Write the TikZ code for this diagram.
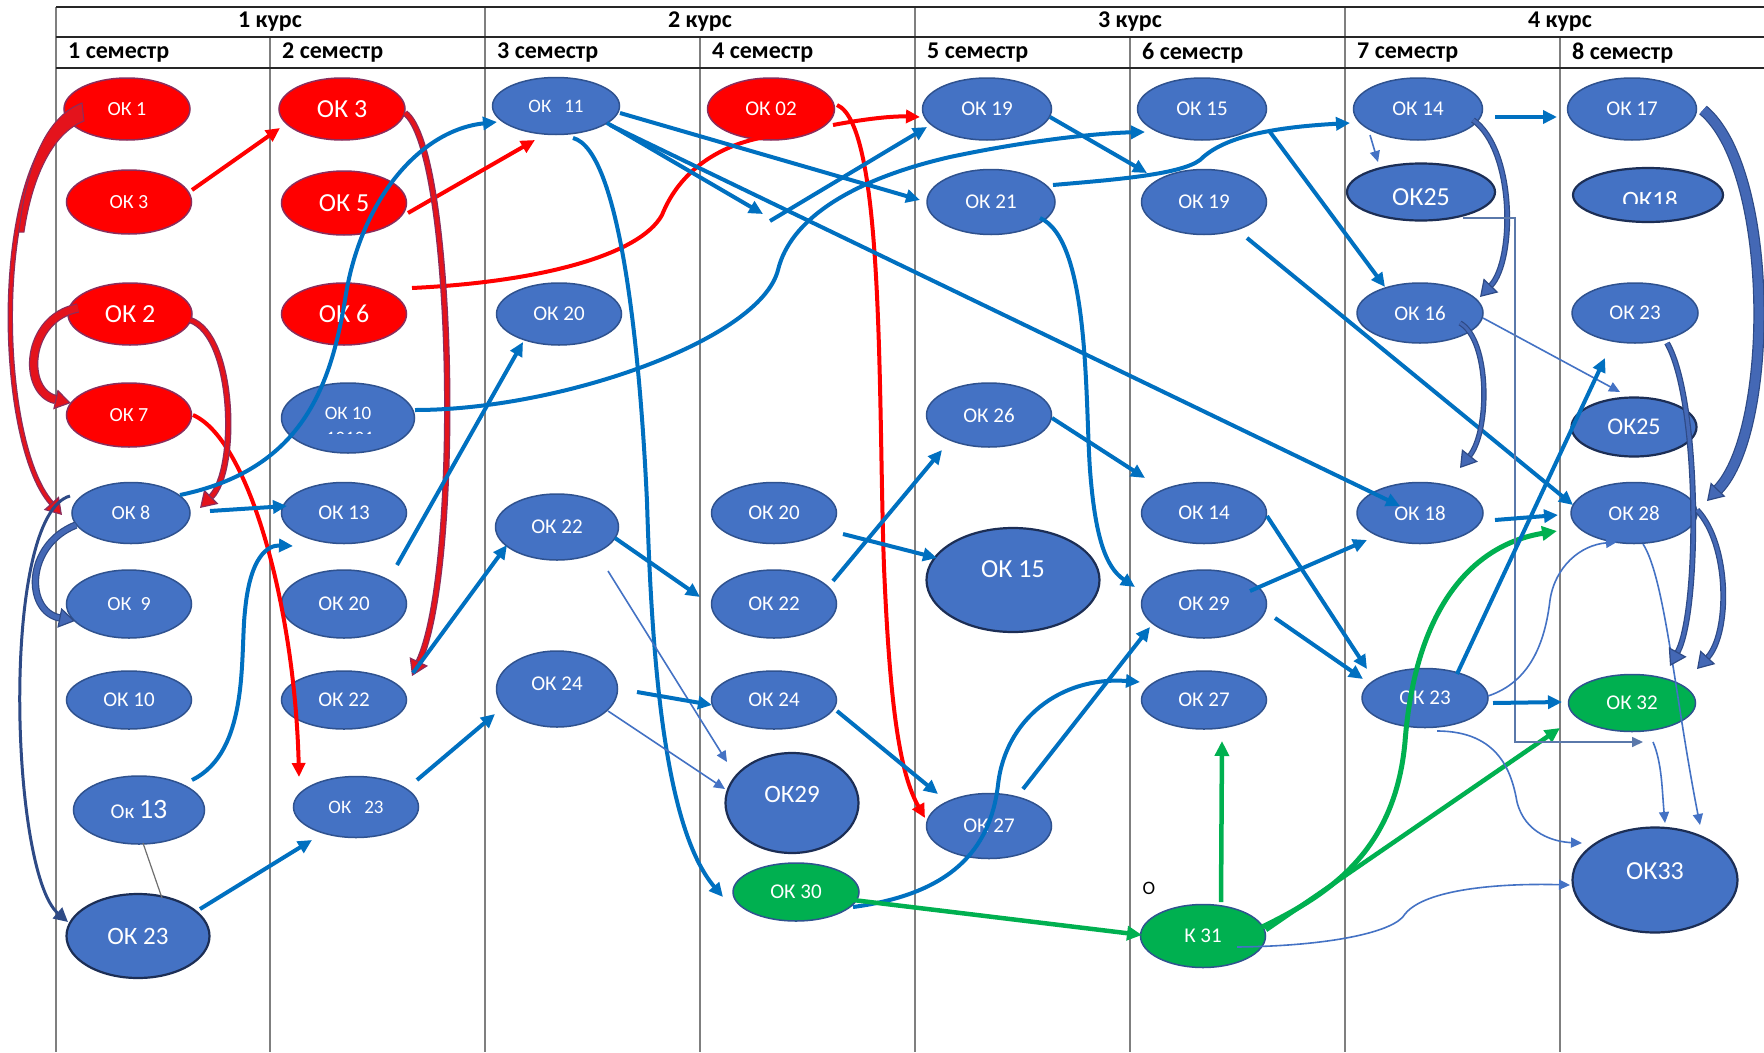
\documentclass[tikz,border=0pt]{standalone}
\usepackage{fontspec}
\setmainfont{Carlito}
\usetikzlibrary{arrows.meta,calc,shapes.geometric}
\definecolor{nblue}{HTML}{4472C4}
\definecolor{nedge}{HTML}{2F528F}
\definecolor{dedge}{HTML}{1C2E55}
\definecolor{nred}{HTML}{FF0000}
\definecolor{redge}{HTML}{8A2D5C}
\definecolor{ngreen}{HTML}{00B050}
\definecolor{cblue}{HTML}{0070C0}
\definecolor{cred}{HTML}{FF0000}
\definecolor{cgreen}{HTML}{00B050}
\definecolor{bandred}{HTML}{E4131C}
\definecolor{bandblue}{HTML}{4468B5}
\definecolor{bedge}{HTML}{2E4A86}
\definecolor{gridc}{HTML}{7F7F7F}
\definecolor{hdrc}{HTML}{262626}
\definecolor{polyc}{HTML}{5A78AA}
\definecolor{grayl}{HTML}{6F6F6F}
\newcommand{\txtshift}[2]{\raisebox{#1}[\height][0pt]{#2}}
\tikzset{
  ok/.style={ellipse, inner sep=0pt, outer sep=0pt, text=white, line width=1.5pt, font=\fontsize{21}{24}\selectfont},
  okb/.style={ok, fill=nblue, draw=nedge},
  okr/.style={ok, fill=nred, draw=redge},
  okg/.style={ok, fill=ngreen, draw=nedge},
  okd/.style={ok, fill=nblue, draw=dedge, line width=2.2pt},
  sz/.style 2 args={minimum width=#1pt, minimum height=#2pt},
  fs/.style={font=\fontsize{#1}{#1}\selectfont},
  hdr/.style={font=\fontsize{24}{24}\selectfont\bfseries, text=black, inner sep=0pt},
  gridv/.style={draw=gridc, line width=1.5pt},
  gridh/.style={draw=hdrc, line width=1.8pt},
  bl/.style={draw=cblue, line width=4pt, -{Triangle[length=14pt,width=13pt]}},
  rd/.style={draw=cred, line width=4pt, -{Triangle[length=14pt,width=13pt]}},
  gr/.style={draw=cgreen, line width=4.5pt, -{Triangle[length=15pt,width=14pt]}},
  thn/.style={draw=nblue, line width=1.6pt, -{Triangle[length=11pt,width=10pt]}},
  gline/.style={draw=grayl, line width=1.2pt},
  poly/.style={draw=polyc, line width=1.6pt, -{Triangle[length=11pt,width=10pt]}},
  rband/.style={draw=redge, double=bandred, double distance=#1, line width=1.2pt, -{Triangle[length=16pt,width=20pt,fill=bandred]}},
  bband/.style={draw=bedge, double=bandblue, double distance=#1, line width=1.2pt, -{Triangle[length=16pt,width=20pt,fill=bandblue]}},
}
\begin{document}
\begin{tikzpicture}[x=1pt,y=-1pt]
\useasboundingbox (0,0) rectangle (1764,1052);
\fill[white] (0,0) rectangle (1764,1052);
% grid
\draw[gridv] (56,7) -- (56,1052);
\draw[gridv] (485,7) -- (485,1052);
\draw[gridv] (915,7) -- (915,1052);
\draw[gridv] (1345,7) -- (1345,1052);
\draw[gridv] (270,37) -- (270,1052);
\draw[gridv] (700,37) -- (700,1052);
\draw[gridv] (1130,37) -- (1130,1052);
\draw[gridv] (1560,37) -- (1560,1052);
\draw[gridh] (56,7) -- (1764,7);
\draw[gridh] (56,37) -- (1764,37);
\draw[gridh, line width=2.4pt] (56,68) -- (1764,68);
% headers
\node[hdr] (y1) at (270,22) {1 курс};
\node[hdr] (y2) at (700,22) {2 курс};
\node[hdr] (y3) at (1130,22) {3 курс};
\node[hdr] (y4) at (1560,22) {4 курс};
\node[hdr, anchor=west] (s1) at (68,53) {1 семестр};
\node[hdr, anchor=west] (s2) at (282,53) {2 семестр};
\node[hdr, anchor=west] (s3) at (497,53) {3 семестр};
\node[hdr, anchor=west] (s4) at (712,53) {4 семестр};
\node[hdr, anchor=west] (s5) at (927,53) {5 семестр};
\node[hdr, anchor=west] (s6) at (1142,53) {6 семестр};
\node[hdr, anchor=west] (s7) at (1357,53) {7 семестр};
\node[hdr, anchor=west] (s8) at (1572,53) {8 семестр};
% column 1
\node[okr, sz={126}{62}, fs=20] (c1n1) at (127,109) {ОК 1};
\node[okr, sz={125}{64}, fs=20] (c1n3) at (129,202) {ОК 3};
\node[okr, sz={124}{62}, fs=26] (c1n2) at (130,314) {ОК 2};
\node[okr, sz={125}{64}, fs=20] (c1n7) at (129,415) {ОК 7};
\node[okb, sz={118}{61}, fs=20] (c1n8) at (131,513) {ОК 8};
\node[okb, sz={125}{68}, fs=20] (c1n9) at (129,604) {ОК\ \ 9};
\node[okb, sz={125}{58}] (c1n10) at (129,700) {ОК 10};
\node[okb, sz={131}{68}] (c1n13) at (139,810) {{\fontsize{21}{21}\selectfont Ок }{\fontsize{28}{28}\selectfont 13}};
\node[okd, sz={143}{84}, fs=25] (c1n23) at (138,936) {ОК 23};
% column 2
\node[okr, sz={126}{62}, fs=26] (c2n3) at (342,109) {ОК 3};
\node[okr, sz={125}{64}, fs=26] (c2n5) at (344,203) {ОК 5};
\node[okr, sz={125}{62}, fs=26] (c2n6) at (344,314) {ОК 6};
\node[okb, sz={133}{70}, fs=19] (c2n10) at (348,418) {\txtshift{5pt}{ОК 10}};
\begin{scope}
\clip (290,425) rectangle (410,433);
\node[text=white, fs=19, inner sep=0pt] (c2n10x) at (350,438) {10101};
\end{scope}
\node[okb, sz={125}{61}] (c2n13) at (344,513) {ОК 13};
\node[okb, sz={125}{68}] (c2n20) at (344,604) {ОК 20};
\node[okb, sz={125}{58}] (c2n22) at (344,700) {ОК 22};
\node[okb, sz={125}{61}, fs=19] (c2n23) at (356,807) {ОК\ \ \ 23};
% column 3
\node[okb, sz={127}{57}, fs=19] (c3n11) at (556,106) {ОК\ \ \ 11};
\node[okb, sz={125}{62}] (c3n20) at (559,314) {ОК 20};
\node[okb, sz={123}{66}] (c3n22) at (557,527) {ОК 22};
\node[okb, sz={121}{76}] (c3n24) at (557,689) {\txtshift{5pt}{ОК 24}};
% column 4
\node[okr, sz={127}{62}] (c4n02) at (771,109) {ОК 02};
\node[okb, sz={125}{61}] (c4n20) at (774,513) {ОК 20};
\node[okb, sz={125}{68}] (c4n22) at (774,604) {ОК 22};
\node[okb, sz={125}{58}] (c4n24) at (774,700) {ОК 24};
\node[okd, sz={133}{100}, fs=25] (c4n29) at (792,803) {\txtshift{9pt}{ОК29}};
\node[okg, sz={126}{58}] (c4n30) at (796,892) {ОК 30};
% column 5
\node[okb, sz={129}{62}] (c5n19) at (987,109) {ОК 19};
\node[okb, sz={128}{65}] (c5n21) at (991,202) {ОК 21};
\node[okb, sz={125}{64}] (c5n26) at (989,415) {ОК 26};
\node[okd, sz={173}{104}, fs=26] (c5n15) at (1013,580) {\txtshift{11pt}{ОК 15}};
\node[okb, sz={125}{65}] (c5n27) at (989,826) {ОК 27};
% column 6
\node[okb, sz={129}{62}] (c6n15) at (1202,109) {ОК 15};
\node[okb, sz={125}{65}] (c6n19) at (1204,202) {ОК 19};
\node[okb, sz={125}{61}] (c6n14) at (1204,513) {ОК 14};
\node[okb, sz={125}{68}] (c6n29) at (1204,604) {ОК 29};
\node[okb, sz={125}{58}] (c6n27) at (1204,700) {ОК 27};
\node[okg, sz={125}{63}] (c6n31) at (1203,936) {К 31};
\node[text=black, fs=19, inner sep=0pt] (otxt) at (1149,888) {О};
% column 7
\node[okb, sz={129}{62}] (c7n14) at (1418,109) {ОК 14};
\node[okd, sz={148}{57}, fs=26] (c7n25) at (1421,192) {\txtshift{-5pt}{ОК25}};
\node[okb, sz={126}{60}] (c7n16) at (1420,313) {ОК 16};
\node[okb, sz={126}{61}] (c7n18) at (1420,513) {ОК 18};
\node[okb, sz={126}{59}] (c7n23) at (1425,698) {ОК 23};
% column 8
\node[okb, sz={129}{62}] (c8n17) at (1632,109) {ОК 17};
\node[okd, sz={150}{54}] (c8n18) at (1648,195) {};
\begin{scope}
\clip (1580,185) rectangle (1720,203.5);
\node[text=white, fs=25, inner sep=0pt] (c8n18t) at (1650,200) {ОК18};
\end{scope}
\node[okb, sz={126}{60}] (c8n23) at (1635,313) {ОК 23};
\node[okd, sz={125}{59}, fs=24] (c8n25) at (1634,427) {ОК25};
\node[okb, sz={126}{61}] (c8n28) at (1634,513) {ОК 28};
\node[okg, sz={127}{57}] (c8n32) at (1632,703) {ОК 32};
\node[okd, sz={165}{105}, fs=26] (c8n33) at (1655,880) {\txtshift{9pt}{ОК33}};
% ---------- red connectors
\draw[rd] ($(c1n3)+(63,-12)$) -- ($(c2n3)+(-62,19)$);
\draw[rd] ($(c2n5)+(64,10)$) -- ($(c3n11)+(-21,34)$);
\draw[draw=cred, line width=4pt] ($(c2n6)+(68,-26)$) .. controls (540,282) and (640,255) .. (662,215) .. controls (680,170) and (720,145) .. ($(c4n02)+(-6,28)$);
\draw[rd] ($(c4n02)+(62,16)$) .. controls (870,118) and (895,116) .. ($(c5n19)+(-67,8)$);
\draw[rd] ($(c4n02)+(66,-4)$) .. controls (885,125) and (878,400) .. (884,567) .. controls (890,709) and (900,774) .. ($(c5n27)+(-64,-8)$);
\draw[rd] ($(c1n7)+(64,0)$) .. controls (250,440) and (295,611) .. ($(c2n23)+(-57,-30)$);
% red bands
\draw[rband=3pt] ($(c1n1)+(-49,3)$) .. controls (-10,150) and (-5,440) .. ($(c1n8)+(-69,2)$);
\filldraw[fill=bandred, draw=redge, line width=1pt] (82,103) .. controls (48,116) and (27,160) .. (19,232) -- (24,232) .. controls (33,172) and (55,132) .. (84,121) -- cycle;
\draw[rband=7pt] ($(c1n2)+(-52,-6)$) .. controls (25,318) and (22,392) .. ($(c1n7)+(-58,-12)$);
\draw[rband=4pt] ($(c1n2)+(60,6)$) .. controls (235,335) and (238,470) .. ($(c1n8)+(69,-5)$);
\draw[rband=4pt] ($(c2n3)+(63,4)$) .. controls (455,150) and (462,570) .. ($(c2n22)+(68,-24)$);
% ---------- blue connectors
\draw[bl] ($(c1n8)+(79,-2)$) -- ($(c2n13)+(-57,-7)$);
\draw[bl] ($(c1n8)+(49,-18)$) .. controls (300,470) and (330,390) .. (345,300) .. controls (360,200) and (420,130) .. ($(c3n11)+(-59,16)$);
\draw[bband=5pt] ($(c1n8)+(-55,12)$) .. controls (25,545) and (25,611) .. ($(c1n9)+(-54,17)$);
\draw[draw=bedge, line width=3pt, -{Triangle[length=14pt,width=14pt]}] ($(c1n8)+(-61,-17)$) .. controls (0,515) and (10,872) .. ($(c1n23)+(-70,-14)$);
\draw[bl] ($(c1n13)+(53,-30)$) .. controls (250,752) and (240,654) .. (245,611) .. controls (250,556) and (268,545) .. ($(c2n13)+(-51,33)$);
\draw[gline] ($(c1n13)+(4,33)$) -- ($(c1n23)+(24,-38)$);
\draw[bl] ($(c1n23)+(62,-27)$) -- ($(c2n23)+(-44,33)$);
\draw[bl] ($(c2n20)+(53,-39)$) -- ($(c3n20)+(-36,28)$);
\draw[bl] ($(c2n22)+(69,-27)$) -- ($(c3n22)+(-50,18)$);
\draw[bl] ($(c2n23)+(61,-27)$) -- ($(c3n24)+(-62,25)$);
\draw[bl] ($(c2n10)+(67,-8)$) .. controls (560,410) and (760,340) .. (778,270) .. controls (790,220) and (850,180) .. (950,157) .. controls (1030,140) and (1100,133) .. ($(c6n15)+(-57,23)$);
\coordinate (m1) at (763,214);
\coordinate (m2) at (770,221);
\draw[bl] ($(c3n11)+(51,17)$) -- (m1);
\draw[bl] (m2) -- ($(c5n19)+(-60,18)$);
\draw[bl] ($(c3n11)+(64,7)$) -- ($(c5n21)+(-71,-2)$);
\draw[bl] ($(c3n11)+(54,19)$) -- ($(c7n18)+(-20,-7)$);
\draw[bl] ($(c3n11)+(17,32)$) .. controls (620,150) and (640,350) .. (647,502) .. controls (652,665) and (665,829) .. ($(c4n30)+(-73,5)$);
\draw[bl] ($(c4n20)+(69,21)$) -- ($(c5n15)+(-76,-22)$);
\draw[bl] ($(c4n22)+(59,-23)$) -- ($(c5n26)+(-47,35)$);
\draw[bl] ($(c3n22)+(58,11)$) -- ($(c4n22)+(-74,-7)$);
\draw[thn] ($(c3n22)+(51,44)$) -- ($(c4n29)+(-65,-41)$);
\draw[bl] ($(c3n24)+(80,3)$) -- ($(c4n24)+(-62,5)$);
\draw[thn] ($(c3n24)+(51,22)$) -- ($(c4n29)+(-67,-14)$);
\draw[bl] ($(c4n24)+(63,11)$) -- ($(c5n27)+(-51,-32)$);
\draw[bl] ($(c4n30)+(57,15)$) .. controls (950,894) and (990,851) .. (998,785) .. controls (1005,720) and (1060,676) .. ($(c6n27)+(-64,-18)$);
\draw[bl] ($(c5n27)+(34,-37)$) -- ($(c6n29)+(-54,23)$);
% green
\draw[gr] ($(c4n30)+(57,8)$) -- ($(c6n31)+(-61,-1)$);
\draw[gr] ($(c6n31)+(18,-34)$) -- ($(c6n27)+(18,41)$);
\draw[gr, line width=5pt] ($(c6n31)+(59,-9)$) .. controls (1330,894) and (1395,851) .. (1405,742) .. controls (1415,611) and (1470,545) .. ($(c8n28)+(-77,18)$);
\draw[gr] ($(c6n31)+(63,-6)$) -- ($(c8n32)+(-72,25)$);
\draw[thn] ($(c6n31)+(34,11)$) .. controls (1330,946) and (1395,932) .. (1405,914) .. controls (1425,889) and (1500,883) .. ($(c8n33)+(-85,5)$);
% columns 5-8
\draw[bl] ($(c5n19)+(63,8)$) -- ($(c6n19)+(-57,-29)$);
\draw[bl] ($(c5n21)+(62,-17)$) .. controls (1110,180) and (1180,175) .. (1200,160) .. controls (1220,140) and (1260,128) .. ($(c7n14)+(-68,14)$);
\draw[bl] ($(c6n15)+(68,23)$) -- ($(c7n16)+(-35,-26)$);
\draw[bl] ($(c6n19)+(43,36)$) -- ($(c8n28)+(-61,-8)$);
\draw[bl] ($(c5n21)+(49,16)$) .. controls (1090,240) and (1085,400) .. (1090,470) .. controls (1095,535) and (1105,567) .. ($(c6n29)+(-69,-17)$);
\draw[bl] ($(c5n26)+(63,3)$) -- ($(c6n14)+(-59,-35)$);
\draw[bl] ($(c6n14)+(63,3)$) -- ($(c7n23)+(-58,-29)$);
\draw[bl] ($(c6n29)+(46,-13)$) -- ($(c7n18)+(-53,27)$);
\draw[bl] ($(c6n29)+(71,14)$) -- ($(c7n23)+(-62,-19)$);
\draw[bl] ($(c7n14)+(77,8)$) -- ($(c8n17)+(-75,8)$);
\draw[thn] ($(c7n14)+(-48,26)$) -- ($(c7n25)+(-43,-30)$);
\draw[bband=3.5pt] ($(c7n14)+(55,11)$) .. controls (1515,150) and (1515,260) .. ($(c7n16)+(60,-16)$);
\draw[bband=3pt] ($(c7n16)+(40,10)$) .. controls (1490,340) and (1490,430) .. ($(c7n18)+(40,-45)$);
\draw[thn] ($(c7n16)+(63,5)$) -- ($(c8n25)+(-14,-35)$);
\draw[poly] ($(c7n25)+(42,26)$) -- (1515,218) -- (1515,742) -- ($(c8n32)+(11,39)$);
\draw[bl] ($(c7n18)+(75,7)$) -- ($(c8n28)+(-76,2)$);
\draw[bl] ($(c7n23)+(68,5)$) -- ($(c8n32)+(-70,-1)$);
\draw[bl] ($(c7n23)+(32,-24)$) -- ($(c8n23)+(-30,45)$);
\draw[thn] ($(c7n23)+(63,-2)$) .. controls (1530,682) and (1545,643) .. (1550,600) .. controls (1555,567) and (1580,545) .. ($(c8n28)+(-17,29)$);
\draw[thn] ($(c7n23)+(12,33)$) .. controls (1500,731) and (1512,774) .. (1517,802) .. controls (1525,834) and (1555,842) .. ($(c8n33)+(-73,-37)$);
\draw[thn] ($(c8n28)+(9,31)$) .. controls (1665,578) and (1675,698) .. ($(c8n33)+(45,-55)$);
\draw[thn] ($(c8n32)+(21,39)$) .. controls (1662,763) and (1662,790) .. ($(c8n33)+(10,-57)$);
\draw[bband=3.5pt] ($(c8n23)+(32,30)$) .. controls (1700,400) and (1700,611) .. ($(c8n32)+(38,-37)$);
\draw[bband=3.5pt] ($(c8n28)+(63,-3)$) .. controls (1730,545) and (1730,633) .. ($(c8n32)+(65,-34)$);
\draw[bband=9pt] ($(c8n17)+(71,1)$) .. controls (1775,170) and (1775,430) .. ($(c8n28)+(73,-12)$);
\end{tikzpicture}
\end{document}
